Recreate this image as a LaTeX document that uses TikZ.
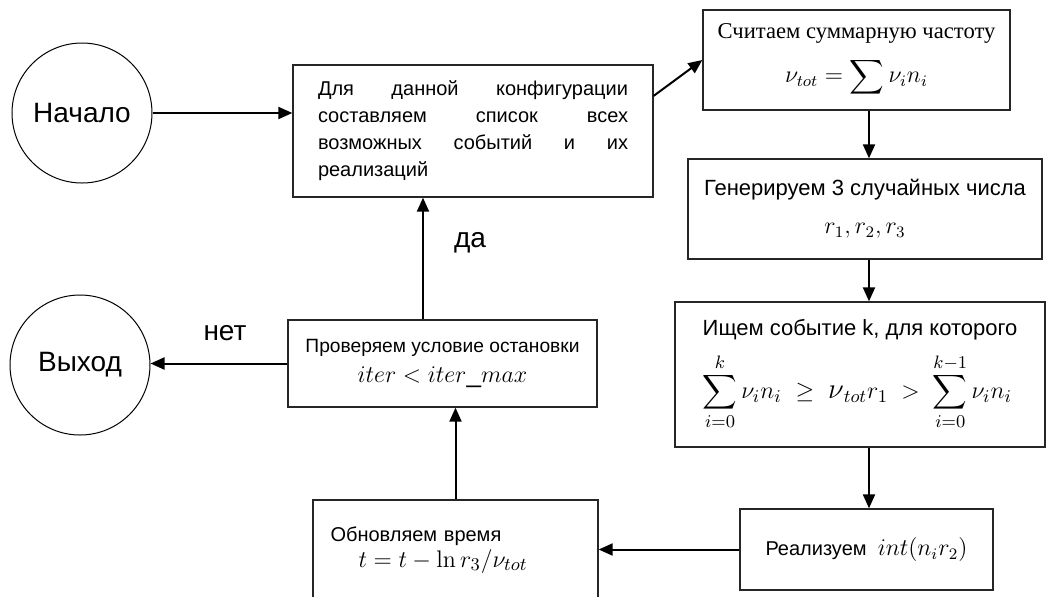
\documentclass[tikz,border=0pt]{standalone}
\usepackage{amsmath}
\usepackage[no-math]{fontspec}
\setmainfont{Liberation Sans}
\newfontfamily\serifcyr{Liberation Serif}
\usetikzlibrary{arrows.meta}

\newcommand{\mathbig}{\fontsize{13}{15}\selectfont}

\begin{document}
\begin{tikzpicture}[x=0.5pt, y=-0.5pt,
    block/.style={draw=black!85, line width=0.65pt, inner sep=2pt},
    term/.style={draw, circle, line width=0.5pt, minimum size=70pt, inner sep=0pt,
                 font=\fontsize{14}{16}\selectfont},
    flow/.style={-{Triangle[length=7pt, width=6pt]}, line width=1pt},
    lbl/.style={font=\fontsize{14}{16}\selectfont}]
  \useasboundingbox (0,0) rectangle (1051,596);

  % ── Start / exit ──
  \node[term] (start) at (82,113) {Начало};
  \node[term] (stop)  at (80,365) {Выход};

  % ── Left column ──
  \node[block, minimum width=180pt, minimum height=66pt, text width=155pt,
        align=justify, font=\fontsize{10}{13.5}\selectfont]
    (config) at (473,131)
    {\hyphenpenalty=10000\relax
     Для данной конфигурации\linebreak составляем список всех\linebreak
     возможных событий и их\linebreak реализаций};
  \node[block, minimum width=154.5pt, minimum height=43.5pt, align=center,
        font=\fontsize{9.6}{12}\selectfont]
    (check) at (442.5,363.5)
    {Проверяем условие остановки\\[3pt] {\mathbig $iter < iter\_max$}};
  \node[block, minimum width=142.5pt, minimum height=50pt, text width=125pt,
        align=left, font=\fontsize{10}{12}\selectfont]
    (update) at (455.5,550)
    {Обновляем время\\[1pt] \hspace*{14pt}{\mathbig $t = t - \ln r_3/\nu_{tot}$}};

  % ── Right column ──
  \node[block, minimum width=153.5pt, minimum height=50pt, align=center]
    (freq) at (856.5,60)
    {{\serifcyr\fontsize{11.3}{13}\selectfont Считаем суммарную частоту}\\[6pt]
     {\large $\nu_{tot} = \displaystyle\sum \nu_i n_i$}};
  \node[block, minimum width=177pt, minimum height=50pt, align=center,
        font=\fontsize{11}{13}\selectfont]
    (rand) at (865,209)
    {Генерируем 3 случайных числа\\[6pt] {\large $r_1, r_2, r_3$}};
  \node[block, minimum width=185pt, minimum height=72.5pt, align=left,
        font=\fontsize{11}{13}\selectfont]
    (search) at (860,374.5)
    {Ищем событие k, для которого\\[6pt]
     {\mathbig $\displaystyle\sum_{i=0}^{k} \nu_i n_i \ \geq\ \text{\Large$\nu$}_{tot} r_1
      \;>\; \sum_{i=0}^{k-1} \nu_i n_i$}};
  \node[block, minimum width=126.5pt, minimum height=40.5pt,
        font=\fontsize{10}{12}\selectfont]
    (realize) at (866.5,549.5)
    {Реализуем \ {\large $int(n_i r_2)$}};

  % ── Connectors ──
  \coordinate (colR) at (869,0);
  \coordinate (colL) at (423,0);
  \draw[flow] (start.east) -- (start.east -| config.west);
  \draw[flow] (config.11) -- (freq.west);
  \draw[flow] (colR |- freq.south) -- (colR |- rand.north);
  \draw[flow] (colR |- rand.south) -- (colR |- search.north);
  \draw[flow] (colR |- search.south) -- (colR |- realize.north);
  \draw[flow] (realize.west) -- (realize.west -| update.east);
  \draw[flow] (update.north) -- (update.north |- check.south);
  \draw[flow] (colL |- check.north) -- (colL |- config.south);
  \draw[flow] (check.west) -- (check.west -| stop.east);

  % Branch labels
  \node[lbl] (yes) at (470,243) {да};
  \node[lbl] (no)  at (225,333) {нет};
\end{tikzpicture}
\end{document}
